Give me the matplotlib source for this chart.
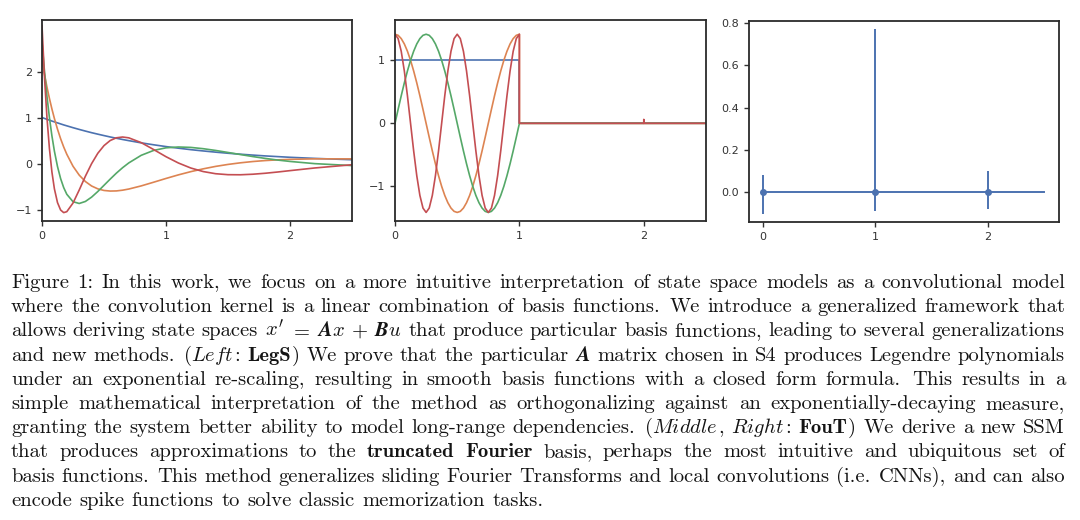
import re
import numpy as np
import matplotlib
matplotlib.use('Agg')
import matplotlib.pyplot as plt

# left panel: LegS basis functions
legs_x = [0, 0.02, 0.04, 0.06, 0.08, 0.1, 0.125, 0.15, 0.175, 0.2, 0.25, 0.3, 0.35, 0.4,
          0.45, 0.5, 0.55, 0.6, 0.65, 0.7, 0.8, 0.9, 1.0, 1.1, 1.2, 1.3, 1.4, 1.5, 1.6,
          1.7, 1.8, 1.9, 2.0, 2.2, 2.5]
legs_blue = [1.0, 0.980, 0.961, 0.942, 0.923, 0.905, 0.883, 0.861, 0.839, 0.819, 0.779,
             0.741, 0.705, 0.670, 0.638, 0.607, 0.577, 0.549, 0.522, 0.497, 0.449, 0.407,
             0.368, 0.333, 0.301, 0.273, 0.247, 0.223, 0.202, 0.183, 0.165, 0.150, 0.135,
             0.111, 0.082]
legs_orange = [2.236, 1.937, 1.663, 1.413, 1.185, 0.978, 0.746, 0.540, 0.359, 0.201, -0.059,
               -0.252, -0.392, -0.489, -0.551, -0.586, -0.599, -0.596, -0.580, -0.555, -0.487,
               -0.407, -0.325, -0.247, -0.177, -0.116, -0.063, -0.020, 0.015, 0.043, 0.064,
               0.079, 0.090, 0.101, 0.101]
legs_green = [2.646, 2.007, 1.460, 0.994, 0.600, 0.269, -0.066, -0.327, -0.524, -0.669, -0.830,
              -0.869, -0.825, -0.731, -0.609, -0.474, -0.339, -0.209, -0.091, 0.013, 0.178,
              0.284, 0.341, 0.359, 0.350, 0.322, 0.284, 0.240, 0.195, 0.151, 0.111, 0.075,
              0.045, -0.003, -0.045]
legs_red = [3.0, 1.877, 0.997, 0.321, -0.185, -0.551, -0.850, -1.011, -1.068, -1.047, -0.860,
            -0.577, -0.276, -0.003, 0.222, 0.389, 0.500, 0.559, 0.576, 0.558, 0.454, 0.304,
            0.148, 0.011, -0.098, -0.175, -0.222, -0.243, -0.245, -0.233, -0.212, -0.185,
            -0.155, -0.097, -0.027]

# middle panel: FouT basis, window [0, 1] then zero
fou_x = np.linspace(0, 1, 41)
fou_blue = [1.0] * 41
fou_orange = [1.414, 1.397, 1.345, 1.260, 1.144, 1.000, 0.831, 0.642, 0.437, 0.221, 0.0,
              -0.221, -0.437, -0.642, -0.831, -1.000, -1.144, -1.260, -1.345, -1.397, -1.414,
              -1.397, -1.345, -1.260, -1.144, -1.000, -0.831, -0.642, -0.437, -0.221, 0.0,
              0.221, 0.437, 0.642, 0.831, 1.000, 1.144, 1.260, 1.345, 1.397, 1.414]
fou_green = [0.0, 0.221, 0.437, 0.642, 0.831, 1.000, 1.144, 1.260, 1.345, 1.397, 1.414,
             1.397, 1.345, 1.260, 1.144, 1.000, 0.831, 0.642, 0.437, 0.221, 0.0,
             -0.221, -0.437, -0.642, -0.831, -1.000, -1.144, -1.260, -1.345, -1.397, -1.414,
             -1.397, -1.345, -1.260, -1.144, -1.000, -0.831, -0.642, -0.437, -0.221, 0.0]
fou_red = [1.414, 1.345, 1.144, 0.831, 0.437, 0.0, -0.437, -0.831, -1.144, -1.345, -1.414,
           -1.345, -1.144, -0.831, -0.437, 0.0, 0.437, 0.831, 1.144, 1.345, 1.414,
           1.345, 1.144, 0.831, 0.437, 0.0, -0.437, -0.831, -1.144, -1.345, -1.414,
           -1.345, -1.144, -0.831, -0.437, 0.0, 0.437, 0.831, 1.144, 1.345, 1.414]
tail_x = [1.0, 2.0, 2.0, 2.0, 2.5]
tail_zero = [0, 0, 0, 0, 0]
tail_red = [0, 0, 0.06, 0, 0]

# right panel: spikes
spike_x = [0, 1, 2]
spike_hi = [0.08, 0.77, 0.10]
spike_lo = [-0.10, -0.09, -0.08]
base_x = [0, 2.5]
base_y = [0, 0]

caption = [
    "Figure 1: In this work, we focus on a more intuitive interpretation of state space models as a convolutional model",
    "where the convolution kernel is a linear combination of basis functions. We introduce a generalized framework that",
    r"allows deriving state spaces $x'$ $=$ $\mathbfit{A}x$ $+$ $\mathbfit{B}u$ that produce particular basis functions, leading to several generalizations",
    r"and new methods. (_Left_: **LegS**) We prove that the particular $\mathbfit{A}$ matrix chosen in S4 produces Legendre polynomials",
    "under an exponential re-scaling, resulting in smooth basis functions with a closed form formula. This results in a",
    "simple mathematical interpretation of the method as orthogonalizing against an exponentially-decaying measure,",
    "granting the system better ability to model long-range dependencies. (_Middle_, _Right_: **FouT**) We derive a new SSM",
    "that produces approximations to the **truncated** **Fourier** basis, perhaps the most intuitive and ubiquitous set of",
    "basis functions. This method generalizes sliding Fourier Transforms and local convolutions (i.e. CNNs), and can also",
    "encode spike functions to solve classic memorization tasks.",
]

plt.rcParams['mathtext.fontset'] = 'cm'
colors = ['#4c72b0', '#dd8452', '#55a868', '#c44e52']
W, H = 1080, 520

fig = plt.figure(figsize=(10.8, 5.2), dpi=100)
ax1 = fig.add_axes([42 / W, 1 - 221 / H, 310 / W, 201 / H])
ax2 = fig.add_axes([395 / W, 1 - 221 / H, 311 / W, 201 / H])
ax3 = fig.add_axes([749 / W, 1 - 222 / H, 310 / W, 201 / H])

for ax in (ax1, ax2, ax3):
    for s in ax.spines.values():
        s.set_color('#2b2b2b')
        s.set_linewidth(1.3)
    ax.tick_params(labelsize=8, colors='#333333', length=3.5, width=1)

for ys, c in zip([legs_blue, legs_orange, legs_green, legs_red], colors):
    ax1.plot(legs_x, ys, color=c, lw=1.2)
ax1.set_xlim(0, 2.5)
ax1.set_ylim(-1.25, 3.12)
ax1.set_xticks([0, 1, 2])
ax1.set_yticks([-1, 0, 1, 2])

for ys, tl, c in zip([fou_blue, fou_orange, fou_green, fou_red],
                     [tail_zero, tail_zero, tail_zero, tail_red], colors):
    ax2.plot(np.concatenate([fou_x, tail_x]), list(ys) + tl, color=c, lw=1.2)
ax2.set_xlim(0, 2.5)
ax2.set_ylim(-1.55, 1.64)
ax2.set_xticks([0, 1, 2])
ax2.set_yticks([-1, 0, 1])

ax3.plot(base_x, base_y, color=colors[0], lw=1.4)
ax3.vlines(spike_x, spike_lo, spike_hi, color=colors[0], lw=1.4)
ax3.plot(spike_x, [0] * len(spike_x), 'o', color=colors[0], ms=4)
ax3.set_xlim(-0.12, 2.63)
ax3.set_ylim(-0.14, 0.81)
ax3.set_xticks([0, 1, 2])
ax3.set_yticks([0.0, 0.2, 0.4, 0.6, 0.8])
ax3.set_yticklabels(['0.0', '0.2', '0.4', '0.6', '0.8'])

# caption, justified word by word
FS = 14.8
TXT = '#141414'
X0, X1 = 11, 1065
Y0, DY = 288, 24.2
fig.canvas.draw()
rend = fig.canvas.get_renderer()


def seg_text(s):
    kw = dict(fontsize=FS, color=TXT, va='baseline', ha='left')
    if s.startswith('**'):
        return fig.text(0, 0, s[2:-2], family='cmb10', **kw), 1.0
    if s.startswith('_'):
        return fig.text(0, 0, r'$\mathit{' + s[1:-1] + '}$', **kw), -1.0
    if s.startswith('$'):
        t = fig.text(0, 0, s, **kw)
        try:
            t.get_window_extent(rend)
        except Exception:
            t.set_text(s.replace(r'\mathbfit', r'\mathbf'))
        return t, -1.0
    return fig.text(0, 0, s, family='cmr10', **kw), 1.0


for i, line in enumerate(caption):
    words = []
    for w in line.split(' '):
        parts = [p for p in re.split(r'(\*\*.+?\*\*|_.+?_|\$.+?\$)', w) if p]
        segs = [seg_text(p) for p in parts]
        ws = [t.get_window_extent(rend).width for t, _ in segs]
        words.append((w, segs, ws))
    total = sum(sum(ws) + sum(g for _, g in segs[1:]) for _, segs, ws in words)
    weights = [1.3 if w.endswith('.') else 1.0 for w, _, _ in words[:-1]]
    if i == len(caption) - 1:
        unit = 0.36 * FS * 100 / 72
    else:
        unit = (X1 - X0 - total) / sum(weights)
    x = X0
    yb = 1 - (Y0 + i * DY) / H
    for k, (w, segs, ws) in enumerate(words):
        for j, ((t, g), wd) in enumerate(zip(segs, ws)):
            if j > 0:
                x += g
            t.set_position((x / W, yb))
            x += wd
        if k < len(words) - 1:
            x += unit * weights[k]

fig.savefig('out.png', dpi=100)
